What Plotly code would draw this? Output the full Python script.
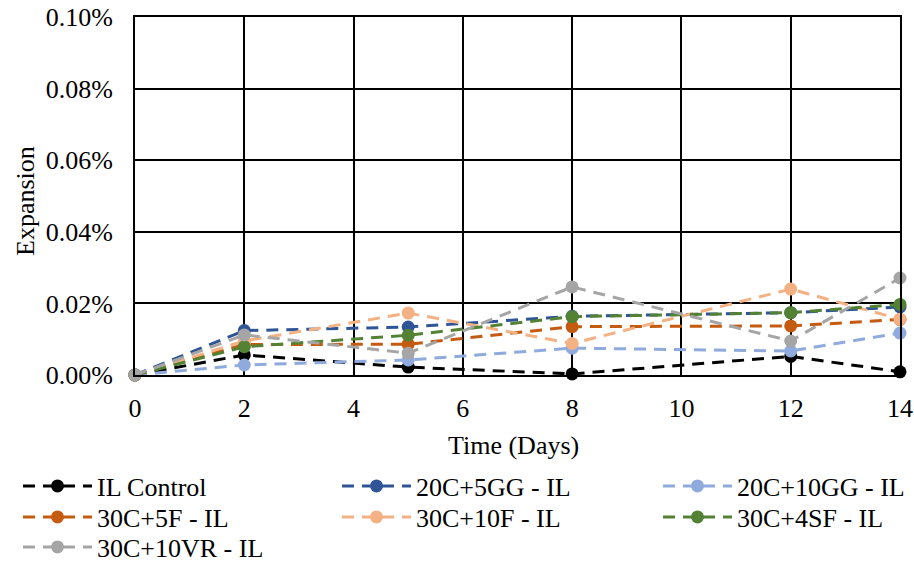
import plotly.graph_objects as go

days = [0, 2, 5, 8, 12, 14]
series_names = ["IL Control", "20C+5GG - IL", "20C+10GG - IL", "30C+5F - IL",
                "30C+10F - IL", "30C+4SF - IL", "30C+10VR - IL"]
il_control = [0.0, 0.0056, 0.0022, 0.0003, 0.0052, 0.0009]
c20_5gg = [0.0, 0.0124, 0.0134, 0.0164, 0.0174, 0.0190]
c20_10gg = [0.0, 0.0028, 0.0042, 0.0075, 0.0067, 0.0117]
c30_5f = [0.0, 0.0085, 0.0086, 0.0135, 0.0137, 0.0155]
c30_10f = [0.0, 0.0095, 0.0173, 0.0088, 0.0240, 0.0156]
c30_4sf = [0.0, 0.0079, 0.0111, 0.0163, 0.0174, 0.0197]
c30_10vr = [0.0, 0.0112, 0.0061, 0.0246, 0.0095, 0.0271]
all_values = [il_control, c20_5gg, c20_10gg, c30_5f, c30_10f, c30_4sf, c30_10vr]
colors = ["#000000", "#2F5597", "#8FAADC", "#C55A11", "#F4B183", "#548235", "#A5A5A5"]

y_ticks = [0.0, 0.02, 0.04, 0.06, 0.08, 0.10]
x_ticks = [0, 2, 4, 6, 8, 10, 12, 14]
x_title = "Time (Days)"
y_title = "Expansion"

FONT = "Liberation Serif, Times New Roman, serif"
FS = 26

L, R, T, B = 135, 14, 17, 188
W, H = 914, 563
PW, PH = W - L - R, H - T - B

def paper_x(px):
    return (px - L) / PW

def paper_y(py):
    return (H - B - py) / PH

col_left_px = [18, 337, 658]
row_center_px = [486, 517, 547]

fig = go.Figure()
legend_layout = {}
for i, (name, vals, col) in enumerate(zip(series_names, all_values, colors)):
    lid = "legend" if i == 0 else f"legend{i + 1}"
    fig.add_trace(go.Scatter(
        x=days, y=vals, name=name, mode="lines+markers",
        line=dict(color=col, width=3, dash="12px,8px"),
        marker=dict(color=col, size=13),
        legend=lid, cliponaxis=False, showlegend=True,
    ))
    r, c = divmod(i, 3)
    legend_layout[lid] = dict(
        x=paper_x(col_left_px[c]),
        y=paper_y(row_center_px[r]),
        xanchor="left", yanchor="middle", orientation="v",
        font=dict(family=FONT, size=FS, color="#000"),
        bgcolor="rgba(0,0,0,0)", itemwidth=69,
    )

fig.update_layout(
    width=W, height=H,
    margin=dict(l=L, r=R, t=T, b=B, autoexpand=False),
    showlegend=True,
    paper_bgcolor="white", plot_bgcolor="white",
    font=dict(family=FONT, size=FS, color="#000"),
    xaxis=dict(
        range=[0, 14], tickvals=x_ticks, ticktext=[str(t) for t in x_ticks],
        showgrid=True, gridcolor="#000", gridwidth=2,
        showline=True, linecolor="#000", linewidth=2, mirror=True,
        zeroline=False, ticks="", automargin=False, ticklabelstandoff=9,
        tickfont=dict(family=FONT, size=FS, color="#000"),
    ),
    yaxis=dict(
        range=[0, 0.10], tickvals=y_ticks,
        ticktext=[f"{v:.2f}%" for v in y_ticks],
        showgrid=True, gridcolor="#000", gridwidth=2,
        showline=True, linecolor="#000", linewidth=2, mirror=True,
        zeroline=False, ticks="", automargin=False, ticklabelstandoff=15,
        tickfont=dict(family=FONT, size=FS, color="#000"),
    ),
    annotations=[
        dict(text=x_title, xref="paper", yref="paper", x=paper_x(513), y=paper_y(445),
             xanchor="center", yanchor="middle", showarrow=False,
             font=dict(family=FONT, size=FS, color="#000")),
        dict(text=y_title, xref="paper", yref="paper", x=paper_x(25), y=paper_y(201),
             xanchor="center", yanchor="middle", showarrow=False, textangle=-90,
             font=dict(family=FONT, size=FS, color="#000")),
    ],
    **legend_layout,
)

fig.write_html("out.html", config={"displayModeBar": False},
               post_script="document.body.style.margin='0px';")
